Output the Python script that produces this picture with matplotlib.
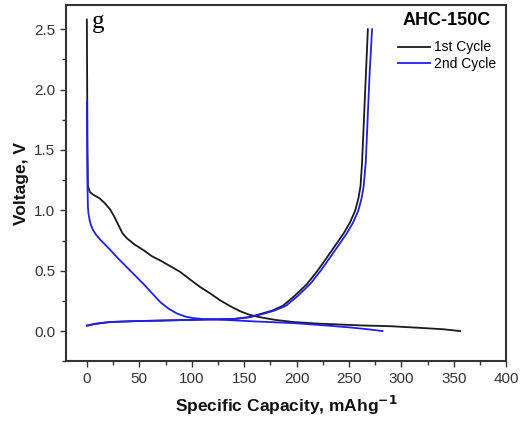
import numpy as np
import matplotlib
import matplotlib.pyplot as plt
from matplotlib.ticker import MultipleLocator
matplotlib.use('Agg')

plt.rcParams['font.family'] = ['Liberation Sans', 'DejaVu Sans']

# 1st cycle discharge (black)
dis1_x = [0, 0.3, 0.6, 1, 3, 6, 12, 17, 22, 26, 30, 34, 38, 45, 54, 62, 70, 80, 89,
          98, 108, 118, 127, 137, 146, 155, 165, 180, 197, 220, 261, 290, 315, 340, 356]
dis1_y = [2.58, 2.0, 1.5, 1.2, 1.15, 1.13, 1.10, 1.06, 1.01, 0.95, 0.88, 0.81, 0.77,
          0.72, 0.67, 0.62, 0.585, 0.535, 0.49, 0.43, 0.365, 0.31, 0.255, 0.205, 0.165,
          0.135, 0.115, 0.092, 0.075, 0.062, 0.047, 0.04, 0.028, 0.015, 0.0]
# 1st cycle charge (black)
chg1_x = [0, 8, 22, 45, 76, 110, 140, 155, 165, 177, 187, 198, 210, 220, 229, 237,
          245, 251, 256, 259, 261, 262.5, 264, 266, 268]
chg1_y = [0.045, 0.06, 0.075, 0.082, 0.088, 0.095, 0.10, 0.115, 0.14, 0.17, 0.21,
          0.29, 0.39, 0.5, 0.61, 0.71, 0.81, 0.9, 1.0, 1.1, 1.2, 1.4, 1.7, 2.1, 2.5]
# 2nd cycle discharge (blue)
dis2_x = [0, 0.3, 0.6, 1, 1.6, 2.6, 4, 6, 9, 13, 17, 22, 30, 38, 46, 54, 62, 70, 78,
          86, 94, 101, 110, 120, 133, 160, 197, 230, 251, 268, 282]
dis2_y = [1.9, 1.5, 1.2, 1.03, 0.97, 0.92, 0.875, 0.835, 0.795, 0.755, 0.72, 0.675,
          0.6, 0.53, 0.46, 0.39, 0.315, 0.24, 0.185, 0.145, 0.12, 0.108, 0.1, 0.097,
          0.092, 0.08, 0.066, 0.045, 0.03, 0.015, 0.0]
# 2nd cycle charge (blue)
chg2_x = [0, 8, 22, 45, 76, 110, 140, 155, 167, 179, 190, 201, 213, 223, 232, 240,
          248, 254, 259, 262, 264, 266, 267.5, 269.5, 272]
chg2_y = [0.045, 0.06, 0.075, 0.082, 0.088, 0.095, 0.10, 0.115, 0.14, 0.17, 0.21,
          0.29, 0.39, 0.5, 0.61, 0.71, 0.81, 0.9, 1.0, 1.1, 1.2, 1.4, 1.7, 2.1, 2.5]

fig = plt.figure(figsize=(5.23, 4.25), dpi=100)
ax = fig.add_axes([0.126, 0.15, 0.842, 0.838])

ax.plot(dis1_x, dis1_y, color='#1a1a1a', lw=1.3, label='1st Cycle')
ax.plot(chg1_x, chg1_y, color='#1a1a1a', lw=1.3)
ax.plot(dis2_x, dis2_y, color='#2020ee', lw=1.3, label='2nd Cycle')
ax.plot(chg2_x, chg2_y, color='#2020ee', lw=1.3)

ax.set_xlim(-20, 400)
ax.set_ylim(-0.25, 2.7)
ax.xaxis.set_major_locator(MultipleLocator(50))
ax.xaxis.set_minor_locator(MultipleLocator(25))
ax.yaxis.set_major_locator(MultipleLocator(0.5))
ax.yaxis.set_minor_locator(MultipleLocator(0.25))
ax.tick_params(which='both', direction='out', top=False, right=False,
               labelsize=11, labelcolor='#333333', color='#333333')
ax.tick_params(which='major', length=4, width=1)
ax.tick_params(which='minor', length=3, width=1)
for s in ax.spines.values():
    s.set_linewidth(1.5)
    s.set_color('#333333')

ax.set_xlabel('Specific Capacity, mAhg$^{\\mathbf{-1}}$', fontsize=12.5,
              fontweight='bold', labelpad=6, color='#111111')
ax.set_ylabel('Voltage, V', fontsize=12.5, fontweight='bold', labelpad=3.5,
              color='#111111')

leg = ax.legend(loc='upper left', bbox_to_anchor=(0.761, 0.905),
                bbox_transform=fig.transFigure, frameon=False,
                fontsize=10, handlelength=2.3, handletextpad=0.3,
                labelspacing=0.2, borderaxespad=0, borderpad=0)
ax.text(0.9375, 0.951, 'AHC-150C', transform=fig.transFigure, ha='right', va='center',
        fontsize=13, fontweight='bold')
ax.text(0.176, 0.948, 'g', transform=fig.transFigure, ha='left', va='center',
        fontsize=18, family='Liberation Serif')

fig.savefig('out.png', dpi=100)
